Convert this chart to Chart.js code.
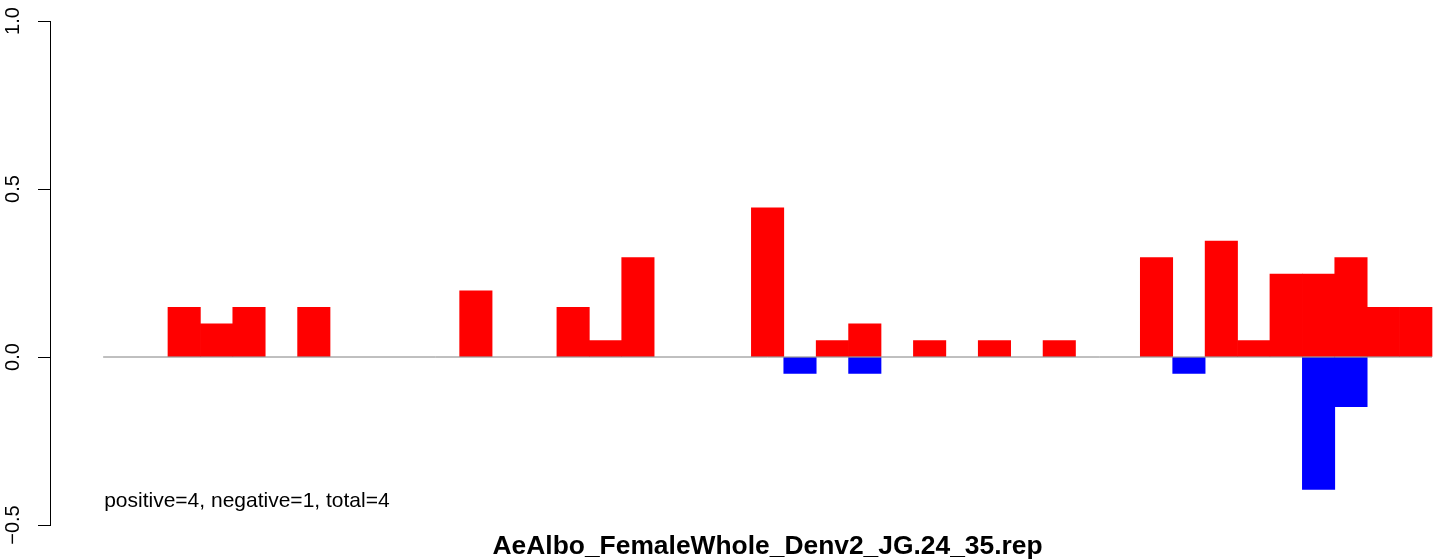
<!DOCTYPE html>
<html>
<head>
<meta charset="utf-8">
<title>AeAlbo_FemaleWhole_Denv2_JG.24_35.rep</title>
<script src="https://cdn.jsdelivr.net/npm/chart.js@4/dist/chart.umd.min.js"></script>
<style>
  html, body { margin: 0; padding: 0; background: #ffffff; }
  #wrap { width: 1444px; height: 560px; position: relative; }
</style>
</head>
<body>
<div id="wrap"><canvas id="repChart"></canvas></div>
<script>
// 41 bins
const bins = Array.from({ length: 41 }, (_, i) => i);
const positives = [
  0, 0, 0.148, 0.099, 0.148, 0, 0.148, 0, 0, 0,
  0, 0.197, 0, 0, 0.148, 0.049, 0.296, 0, 0, 0,
  0.444, 0, 0.049, 0.099, 0, 0.049, 0, 0.049, 0, 0.049,
  0, 0, 0.296, 0, 0.345, 0.049, 0.247, 0.247, 0.296, 0.148,
  0.148
];
const negatives = [
  0, 0, 0, 0, 0, 0, 0, 0, 0, 0,
  0, 0, 0, 0, 0, 0, 0, 0, 0, 0,
  0, -0.049, 0, -0.049, 0, 0, 0, 0, 0, 0,
  0, 0, 0, -0.049, 0, 0, 0, -0.394, -0.148, 0,
  0
];
const yTicks = [-0.5, 0, 0.5, 1.0];
const summaryText = "positive=4, negative=1, total=4";
const chartTitle = "AeAlbo_FemaleWhole_Denv2_JG.24_35.rep";

const fontFamily = "'Liberation Sans', Arial, Helvetica, sans-serif";

// les bacs vides (0) ne sont pas dessinés
function toPoints(values) {
  return bins.map((b, i) => ({ x: b + 0.5, y: values[i] === 0 ? null : values[i] }));
}

// texte en bas à gauche + titre centré sous les barres
const textPlugin = {
  id: "extraText",
  afterDatasetsDraw(chart) {
    const { ctx, scales } = chart;
    ctx.save();
    ctx.fillStyle = "#000000";
    ctx.font = "21px " + fontFamily;
    ctx.textAlign = "left";
    ctx.textBaseline = "middle";
    ctx.fillText(summaryText, scales.x.getPixelForValue(0) + 1, scales.y.getPixelForValue(-0.429));

    ctx.font = "bold 26.4px " + fontFamily;
    ctx.textAlign = "center";
    ctx.textBaseline = "alphabetic";
    const mid = (bins[0] + bins[bins.length - 1] + 1) / 2;
    ctx.fillText(chartTitle, scales.x.getPixelForValue(mid), 554);
    ctx.restore();
  }
};

const ctx = document.getElementById("repChart").getContext("2d");
new Chart(ctx, {
  data: {
    datasets: [
      {
        type: "line",
        data: [{ x: bins[0], y: 0 }, { x: bins[bins.length - 1] + 1, y: 0 }],
        borderColor: "#808080",
        borderWidth: 1,
        pointRadius: 0,
        order: 0
      },
      {
        type: "bar",
        data: toPoints(positives),
        backgroundColor: "#ff0000",
        borderWidth: 0,
        barPercentage: 1,
        categoryPercentage: 1,
        grouped: false,
        order: 1
      },
      {
        type: "bar",
        data: toPoints(negatives),
        backgroundColor: "#0000ff",
        borderWidth: 0,
        barPercentage: 1,
        categoryPercentage: 1,
        grouped: false,
        order: 1
      }
    ]
  },
  options: {
    responsive: true,
    maintainAspectRatio: false,
    animation: false,
    layout: { padding: { top: 21, left: 0, right: 0, bottom: 35 } },
    scales: {
      x: {
        type: "linear",
        display: false,
        min: -1.64,
        max: 41.37,
        offset: false
      },
      y: {
        type: "linear",
        position: "left",
        min: yTicks[0],
        max: yTicks[yTicks.length - 1],
        afterFit(scale) { scale.width = 50; },
        afterBuildTicks(scale) { scale.ticks = yTicks.map(v => ({ value: v })); },
        border: { display: true, color: "#000000", width: 1 },
        grid: {
          drawOnChartArea: false,
          drawTicks: true,
          tickLength: 12,
          color: "#000000",
          lineWidth: 1
        },
        ticks: {
          color: "#000000",
          font: { family: fontFamily, size: 20 },
          minRotation: 90,
          maxRotation: 90,
          crossAlign: "center",
          padding: 5,
          callback: v => v.toFixed(1).replace("-", "\u2212")
        }
      }
    },
    plugins: {
      legend: { display: false },
      tooltip: { enabled: false },
      title: { display: false }
    }
  },
  plugins: [textPlugin]
});
</script>
</body>
</html>
